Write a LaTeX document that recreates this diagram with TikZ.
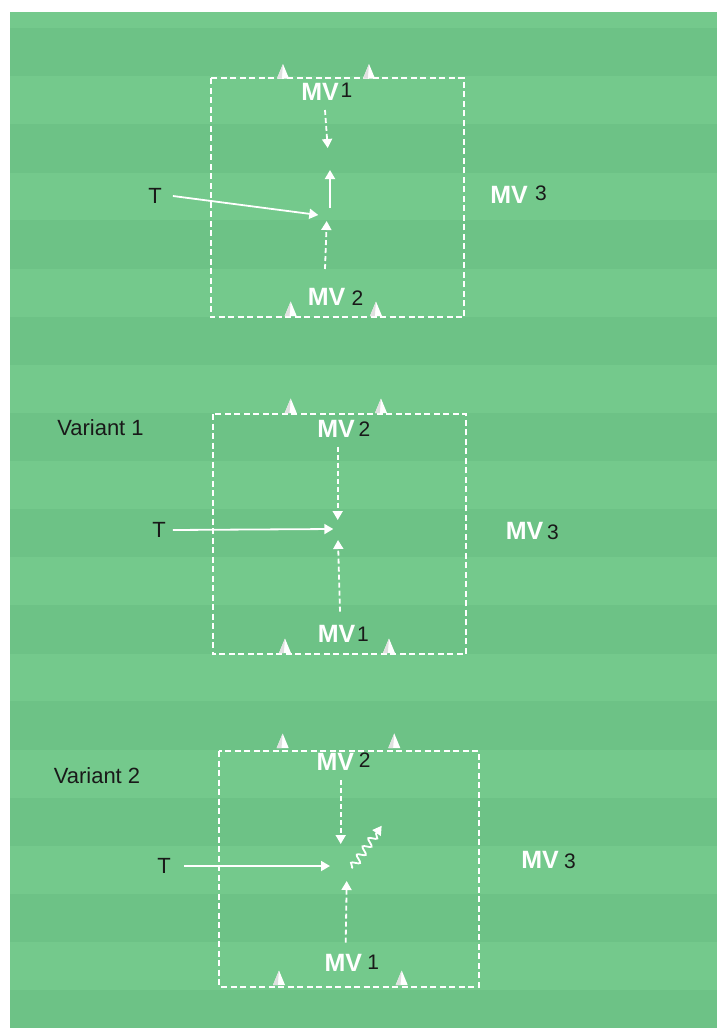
\documentclass[tikz,border=0pt]{standalone}
\usepackage{fontspec}
\setmainfont{Liberation Sans}
\usetikzlibrary{arrows.meta,decorations.pathmorphing}
\definecolor{pitchlight}{RGB}{116,201,140}
\definecolor{pitchdark}{RGB}{109,194,134}
\definecolor{inktext}{RGB}{25,25,25}
\tikzset{
  mvtag/.style={text=white,font=\fontsize{25}{29}\selectfont\bfseries,inner sep=0pt},
  numtag/.style={text=inktext,font=\fontsize{21}{25}\selectfont,inner sep=0pt},
  plaintag/.style={text=inktext,font=\fontsize{22}{26}\selectfont,inner sep=0pt},
  zone/.style={draw=white,line width=1.8pt,dash pattern=on 6pt off 3.5pt},
  pass/.style={draw=white,line width=1.8pt,-{Triangle[width=10pt,length=9pt]}},
  run/.style={pass,dash pattern=on 5pt off 3pt},
  dribble/.style={pass,decorate,decoration={snake,segment length=10pt,amplitude=3.8pt,pre length=1pt,post length=9pt}},
  conepic/.pic={
    \fill[white] (-6,0) -- (0,-14.5) -- (6,0) -- cycle;
    \fill[black!12] (-6,0) -- (0,-14.5) -- (-1.2,0) -- cycle;
  }
}
\begin{document}
\begin{tikzpicture}[x=1pt,y=-1pt]
  \useasboundingbox (0,0) rectangle (717,1028);
  \fill[white] (0,0) rectangle (717,1028);
  % striped pitch
  \begin{scope}
    \clip (10,12) rectangle (717,1028);
    \fill[pitchlight] (10,12) rectangle (717,1028);
    \foreach \k in {0,...,10}
      \fill[pitchdark] (10,{28+96.2*\k}) rectangle (717,{76.3+96.2*\k});
  \end{scope}

  % ---------- drill ----------
  \draw[zone] (210.7,78.3) rectangle (464.3,317.3);
  \foreach \cx/\cy in {283/78.5,369/78.5,290.7/316,376/316}
    \pic at (\cx,\cy) {conepic};
  \node[mvtag]  (a-mv1)  at (320,92)    {MV};
  \node[numtag] (a-mv1n) at (346.5,90)  {1};
  \node[mvtag]  (a-mv2)  at (326.5,296.5) {MV};
  \node[numtag] (a-mv2n) at (357.5,298) {2};
  \node[mvtag]  (a-mv3)  at (509,195)   {MV};
  \node[numtag] (a-mv3n) at (541,193)   {3};
  \node[plaintag] (a-t)  at (155,196)   {T};
  \coordinate (a-hit)   at (318.3,215);
  \coordinate (a-d1s)   at (325,110);
  \coordinate (a-d1e)   at (327.7,148);
  \coordinate (a-ups)   at (330,208);
  \coordinate (a-upe)   at (330,170);
  \coordinate (a-d2s)   at (325,269);
  \coordinate (a-d2e)   at (326.7,221);
  \draw[pass] ([xshift=11pt]a-t.east) -- (a-hit);
  \draw[run]  (a-d1s) -- (a-d1e);
  \draw[pass] (a-ups) -- (a-upe);
  \draw[run]  (a-d2s) -- (a-d2e);

  % ---------- variant 1 ----------
  \node[plaintag] (b-title) at (100.5,428) {Variant 1};
  \draw[zone] (212.7,414) rectangle (466,654.3);
  \foreach \cx/\cy in {290.7,381}
    \pic at (\cx,413) {conepic};
  \foreach \cx in {285,389}
    \pic at (\cx,653) {conepic};
  \node[mvtag]  (b-mv2)  at (336,429)   {MV};
  \node[numtag] (b-mv2n) at (364.5,429) {2};
  \node[mvtag]  (b-mv1)  at (336.5,634) {MV};
  \node[numtag] (b-mv1n) at (363,634)   {1};
  \node[mvtag]  (b-mv3)  at (524.5,531) {MV};
  \node[numtag] (b-mv3n) at (553,532)   {3};
  \node[plaintag] (b-t)  at (159,530)   {T};
  \coordinate (b-hit)  at (333.3,529);
  \coordinate (b-d1s)  at (337.7,446.7);
  \coordinate (b-d1e)  at (337.7,520);
  \coordinate (b-d2s)  at (340,611.7);
  \coordinate (b-d2e)  at (338,540);
  \draw[pass] ([xshift=7pt]b-t.east) -- (b-hit);
  \draw[run]  (b-d1s) -- (b-d1e);
  \draw[run]  (b-d2s) -- (b-d2e);

  % ---------- variant 2 ----------
  \node[plaintag] (c-title) at (97,776) {Variant 2};
  \draw[zone] (219.3,751) rectangle (478.7,986.7);
  \foreach \cx in {282.7,394.3}
    \pic at (\cx,748) {conepic};
  \foreach \cx in {279,401.7}
    \pic at (\cx,985) {conepic};
  \node[mvtag]  (c-mv2)  at (335.3,762) {MV};
  \node[numtag] (c-mv2n) at (364.7,760) {2};
  \node[mvtag]  (c-mv1)  at (343.3,963.3) {MV};
  \node[numtag] (c-mv1n) at (373.3,962) {1};
  \node[mvtag]  (c-mv3)  at (540,860)   {MV};
  \node[numtag] (c-mv3n) at (570,861)   {3};
  \node[plaintag] (c-t)  at (164,866)   {T};
  \coordinate (c-hit)  at (330,866);
  \coordinate (c-d1s)  at (340.7,780);
  \coordinate (c-d1e)  at (340.7,844);
  \coordinate (c-ws)   at (351.7,868.3);
  \coordinate (c-we)   at (381.7,825.7);
  \coordinate (c-d2s)  at (345.7,942.7);
  \coordinate (c-d2e)  at (346.7,881);
  \draw[pass] ([xshift=13pt]c-t.east) -- (c-hit);
  \draw[run]  (c-d1s) -- (c-d1e);
  \draw[dribble] (c-ws) -- (c-we);
  \draw[run]  (c-d2s) -- (c-d2e);
\end{tikzpicture}
\end{document}
